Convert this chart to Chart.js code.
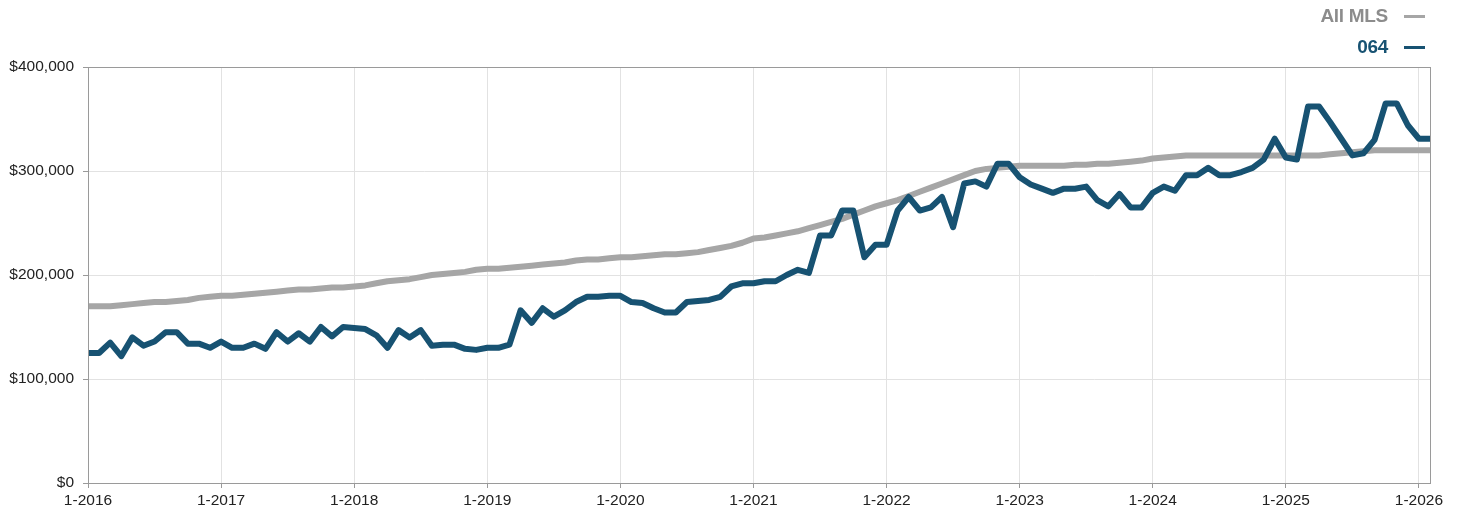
<!DOCTYPE html>
<html>
<head>
<meta charset="utf-8">
<script src="https://cdn.jsdelivr.net/npm/chart.js@4/dist/chart.umd.min.js"></script>
<style>
  html, body { margin: 0; padding: 0; background: #fff; }
  #wrap { position: relative; width: 1460px; height: 512px; }
  .leg { position: absolute; right: 35px; font-family: "Liberation Sans Narrow", "Liberation Sans", Arial, sans-serif;
         font-stretch: condensed; font-weight: bold; font-size: 19px; display: flex; align-items: center; letter-spacing: -0.3px; }
  .leg i { display: inline-block; width: 21px; height: 3px; margin-left: 16px; }
</style>
</head>
<body>
<div id="wrap">
  <canvas id="myChart" width="1460" height="512"></canvas>
  <div class="leg" style="top:5px;color:#8c8c8c">All MLS<i style="background:#a6a6a6"></i></div>
  <div class="leg" style="top:36px;color:#175272">064<i style="background:#175272"></i></div>
</div>
<script>
// months 1-2016 .. 2-2026
const months = [];
for (let y = 2016; y <= 2026; y++) {
    for (let m = 1; m <= 12; m++) {
        if (y === 2026 && m > 2) break;
        months.push(m + '-' + y);
    }
}

// median price, thousands
const allMls = [
    170, 170, 170, 171, 172, 173, 174, 174, 175, 176, 178, 179,
    180, 180, 181, 182, 183, 184, 185, 186, 186, 187, 188, 188,
    189, 190, 192, 194, 195, 196, 198, 200, 201, 202, 203, 205,
    206, 206, 207, 208, 209, 210, 211, 212, 214, 215, 215, 216,
    217, 217, 218, 219, 220, 220, 221, 222, 224, 226, 228, 231,
    235, 236, 238, 240, 242, 245, 248, 251, 254, 258, 262, 266,
    269, 272, 276, 280, 284, 288, 292, 296, 300, 302, 303, 304,
    305, 305, 305, 305, 305, 306, 306, 307, 307, 308, 309, 310,
    312, 313, 314, 315, 315, 315, 315, 315, 315, 315, 315, 315,
    315, 315, 315, 315, 316, 317, 318, 319, 320, 320, 320, 320,
    320, 320
];

const area064 = [
    125, 125, 135, 122, 140, 132, 136, 145, 145, 134, 134, 130,
    136, 130, 130, 134, 129, 145, 136, 144, 136, 150, 141, 150,
    149, 148, 142, 130, 147, 140, 147, 132, 133, 133, 129, 128,
    130, 130, 133, 166, 154, 168, 160, 166, 174, 179, 179, 180,
    180, 174, 173, 168, 164, 164, 174, 175, 176, 179, 189, 192,
    192, 194, 194, 200, 205, 202, 238, 238, 262, 262, 217, 229,
    229, 262, 275, 262, 265, 275, 246, 288, 290, 285, 307, 307,
    294, 287, 283, 279, 283, 283, 285, 272, 266, 278, 265, 265,
    279, 285, 281, 296, 296, 303, 296, 296, 299, 303, 311, 331,
    313, 311, 362, 362, 347, 331, 315, 317, 330, 365, 365, 344,
    331, 331
];

const yTicks = [0, 100000, 200000, 300000, 400000];

const boxPlugin = {
    id: 'box',
    afterDraw(chart) {
        const a = chart.chartArea, ctx = chart.ctx;
        ctx.save();
        ctx.strokeStyle = '#9a9a9a';
        ctx.lineWidth = 1;
        ctx.strokeRect(a.left + 0.5, a.top + 0.5, a.right - a.left, a.bottom - a.top);
        ctx.restore();
    }
};

const chartElem = document.getElementById('myChart').getContext('2d');
let chart = new Chart(chartElem, {
    type: 'line',
    data: {
        labels: months,
        datasets: [
            {
                label: '064',
                data: area064.map(v => v * 1000),
                borderColor: '#175272',
                borderWidth: 6,
                pointRadius: 0,
                tension: 0,
                borderJoinStyle: 'round'
            },
            {
                label: 'All MLS',
                data: allMls.map(v => v * 1000),
                borderColor: '#a6a6a6',
                borderWidth: 6,
                pointRadius: 0,
                tension: 0,
                borderJoinStyle: 'round'
            }
        ]
    },
    options: {
        responsive: false,
        animation: false,
        layout: { padding: { top: 67, right: 30, left: 0, bottom: 0 } },
        plugins: {
            legend: { display: false },
            tooltip: { enabled: false }
        },
        scales: {
            x: {
                offset: false,
                grid: { color: '#e2e2e2', tickColor: '#9a9a9a', tickLength: 5 },
                border: { color: '#9a9a9a' },
                ticks: {
                    autoSkip: false,
                    maxRotation: 0,
                    padding: 3,
                    color: '#222',
                    font: { family: 'Liberation Sans, Arial, sans-serif', size: 15.5 },
                    callback: function (val, i) {
                        return i % 12 === 0 ? months[i] : null;
                    }
                },
                afterFit: s => { s.height = 29; }
            },
            y: {
                min: 0,
                max: 400000,
                afterBuildTicks: s => { s.ticks = yTicks.map(v => ({ value: v })); },
                grid: { color: '#e2e2e2', tickColor: '#9a9a9a', tickLength: 5 },
                border: { color: '#9a9a9a' },
                ticks: {
                    padding: 9,
                    color: '#222',
                    font: { family: 'Liberation Sans, Arial, sans-serif', size: 15.5 },
                    callback: v => '$' + v.toLocaleString('en-US')
                },
                afterFit: s => { s.width = 88; }
            }
        }
    },
    plugins: [boxPlugin]
});
</script>
</body>
</html>
